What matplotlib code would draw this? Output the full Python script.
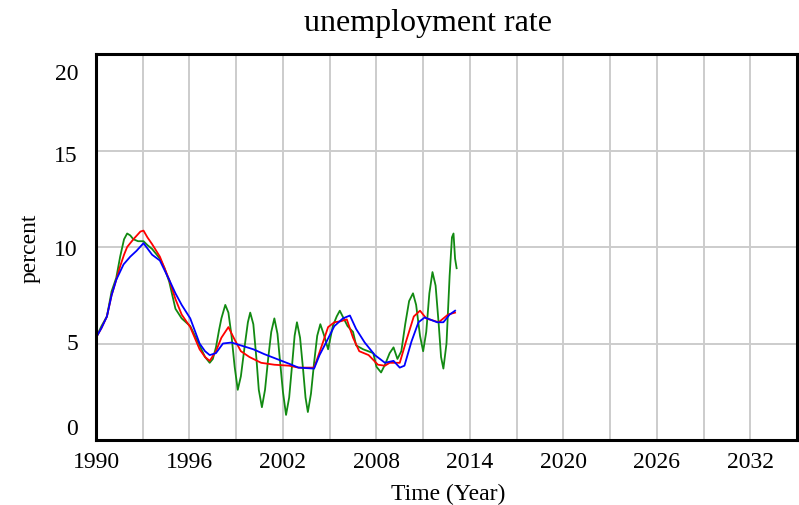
import matplotlib
matplotlib.use('Agg')
import matplotlib.pyplot as plt
import matplotlib.transforms as mtransforms

plt.rcParams['font.family'] = ['Liberation Serif', 'DejaVu Serif']

# green series (oscillating)
years_green = [1990.0, 1990.35, 1990.7, 1991.0, 1991.3, 1991.55, 1991.8, 1992.0, 1992.2, 1992.4,
               1992.7, 1993.05, 1993.3, 1993.6, 1994.1, 1994.4, 1994.7, 1995.1, 1995.5, 1996.05,
               1996.35, 1996.65, 1997.0, 1997.3, 1997.5, 1997.7, 1997.9, 1998.05, 1998.3, 1998.5,
               1998.7, 1998.9, 1999.1, 1999.3, 1999.55, 1999.75, 1999.9, 2000.1, 2000.3, 2000.45,
               2000.65, 2000.85, 2001.05, 2001.25, 2001.45, 2001.65, 2001.8, 2002.0, 2002.2, 2002.4,
               2002.6, 2002.75, 2002.9, 2003.1, 2003.3, 2003.45, 2003.6, 2003.8, 2004.0, 2004.2,
               2004.4, 2004.65, 2004.9, 2005.2, 2005.45, 2005.65, 2005.9, 2006.15, 2006.5, 2006.7,
               2007.15, 2007.8, 2008.0, 2008.3, 2008.55, 2008.85, 2009.1, 2009.35, 2009.6, 2009.85,
               2010.1, 2010.35, 2010.55, 2010.8, 2011.0, 2011.2, 2011.4, 2011.6, 2011.8, 2012.0,
               2012.15, 2012.3, 2012.5, 2012.7, 2012.85, 2012.95, 2013.05, 2013.15]
green = [5.3, 5.9, 6.4, 7.7, 8.4, 9.5, 10.4, 10.7, 10.6, 10.4,
         10.3, 10.3, 10.1, 9.9, 9.4, 8.9, 8.2, 6.8, 6.3, 5.9,
         5.4, 4.9, 4.3, 4.0, 4.2, 4.8, 5.7, 6.3, 7.0, 6.6,
         5.4, 3.8, 2.6, 3.3, 4.9, 6.1, 6.6, 6.0, 4.2, 2.6,
         1.7, 2.6, 4.2, 5.6, 6.3, 5.5, 4.2, 2.5, 1.3, 2.2,
         4.0, 5.4, 6.1, 5.3, 3.6, 2.2, 1.45, 2.4, 4.0, 5.4,
         6.0, 5.4, 4.7, 5.9, 6.4, 6.7, 6.3, 5.9, 5.6, 4.9,
         4.7, 4.5, 3.8, 3.5, 3.9, 4.5, 4.8, 4.2, 4.6, 6.0,
         7.2, 7.6, 7.0, 5.4, 4.6, 5.6, 7.6, 8.7, 8.0, 6.0,
         4.3, 3.7, 5.0, 8.5, 10.5, 10.7, 9.4, 8.9]

# red series
years_red = [1990.0, 1990.35, 1990.7, 1991.0, 1991.3, 1991.55, 1991.8, 1992.0, 1992.4, 1992.85,
             1993.05, 1993.3, 1993.6, 1994.1, 1994.7, 1995.1, 1995.5, 1996.05, 1996.65, 1997.0,
             1997.3, 1997.7, 1998.05, 1998.5, 1998.9, 1999.3, 1999.85, 2000.6, 2001.45, 2002.4,
             2003.0, 2004.0, 2004.2, 2004.5, 2004.9, 2005.3, 2005.7, 2006.1, 2006.5, 2006.9,
             2007.5, 2008.1, 2008.55, 2008.85, 2009.5, 2009.9, 2010.4, 2010.8, 2011.2, 2012.0,
             2012.6, 2013.05]
red = [5.3, 5.8, 6.4, 7.5, 8.3, 9.0, 9.6, 10.0, 10.4, 10.8,
       10.85, 10.5, 10.15, 9.5, 8.3, 7.3, 6.5, 5.85, 4.7, 4.3,
       4.1, 4.6, 5.3, 5.85, 5.2, 4.6, 4.3, 4.0, 3.9, 3.85,
       3.75, 3.75, 4.2, 4.9, 5.85, 6.1, 6.15, 6.25, 5.3, 4.6,
       4.4, 3.9, 3.85, 4.0, 4.0, 5.1, 6.4, 6.7, 6.3, 6.1,
       6.5, 6.6]

# blue series
years_blue = [1990.0, 1990.35, 1990.7, 1991.0, 1991.3, 1991.77, 1992.2, 1992.6, 1993.05, 1993.6,
              1994.1, 1994.7, 1995.1, 1995.5, 1996.05, 1996.65, 1997.0, 1997.3, 1997.7, 1998.15,
              1998.7, 1999.3, 2000.1, 2000.8, 2001.6, 2002.4, 2003.0, 2004.0, 2004.35, 2004.8,
              2005.3, 2005.85, 2006.3, 2006.7, 2007.25, 2007.9, 2008.55, 2009.1, 2009.5, 2009.8,
              2010.25, 2010.7, 2011.1, 2011.9, 2012.3, 2012.7, 2013.05]
blue = [5.3, 5.8, 6.4, 7.5, 8.3, 9.1, 9.5, 9.8, 10.2, 9.6,
        9.3, 8.3, 7.6, 7.0, 6.3, 5.0, 4.6, 4.4, 4.5, 5.0,
        5.05, 4.9, 4.7, 4.45, 4.2, 3.95, 3.75, 3.7, 4.4, 5.1,
        5.9, 6.3, 6.45, 5.75, 5.05, 4.4, 4.0, 4.1, 3.75, 3.85,
        5.1, 6.1, 6.35, 6.1, 6.1, 6.5, 6.7]

x_ticks = [1990, 1996, 2002, 2008, 2014, 2020, 2026, 2032]
y_ticks = [0, 5, 10, 15, 20]
y_label_shift = [11, -0.5, -3, -5.5, -20]  # px, labels pulled inward like the original

fig = plt.figure(figsize=(7.99, 5.06), dpi=100)
ax = fig.add_axes([96 / 799, 1 - 441 / 506, 701 / 799, 386 / 506])

ax.plot(years_green, green, color='#128a12', lw=1.3)
ax.plot(years_red, red, color='#ff0000', lw=1.3)
ax.plot(years_blue, blue, color='#0000ff', lw=1.3)

ax.set_xlim(1990, 2035)
ax.set_ylim(0, 20)
ax.set_xticks(range(1990, 2035, 3), minor=True)
ax.set_xticks(x_ticks)
ax.set_yticks(y_ticks)
ax.set_yticklabels([])
ax.grid(True, which='both', axis='x', color='#cccccc', lw=1.4)
ax.grid(True, axis='y', color='#cccccc', lw=1.4)
ax.set_axisbelow(True)
ax.tick_params(which='both', length=0, labelsize=17)
ax.tick_params(axis='x', pad=8)
for sp in ax.spines.values():
    sp.set_linewidth(2.2)

base = mtransforms.blended_transform_factory(ax.transAxes, ax.transData)
for v, dy in zip(y_ticks, y_label_shift):
    tr = base + mtransforms.ScaledTranslation(-18 / 100, dy / 100, fig.dpi_scale_trans)
    ax.text(0, v, str(v), transform=tr, ha='right', va='center', fontsize=17)

fig.text(428 / 799, 1 - 31 / 506, 'unemployment rate', ha='center', va='baseline', fontsize=23)
fig.text(30 / 799, 1 - 248 / 506, 'percent', rotation=90, ha='center', va='center', fontsize=17)
fig.text(448 / 799, 1 - 494 / 506, 'Time (Year)', ha='center', va='center', fontsize=17)

fig.savefig('out.png', dpi=100)
